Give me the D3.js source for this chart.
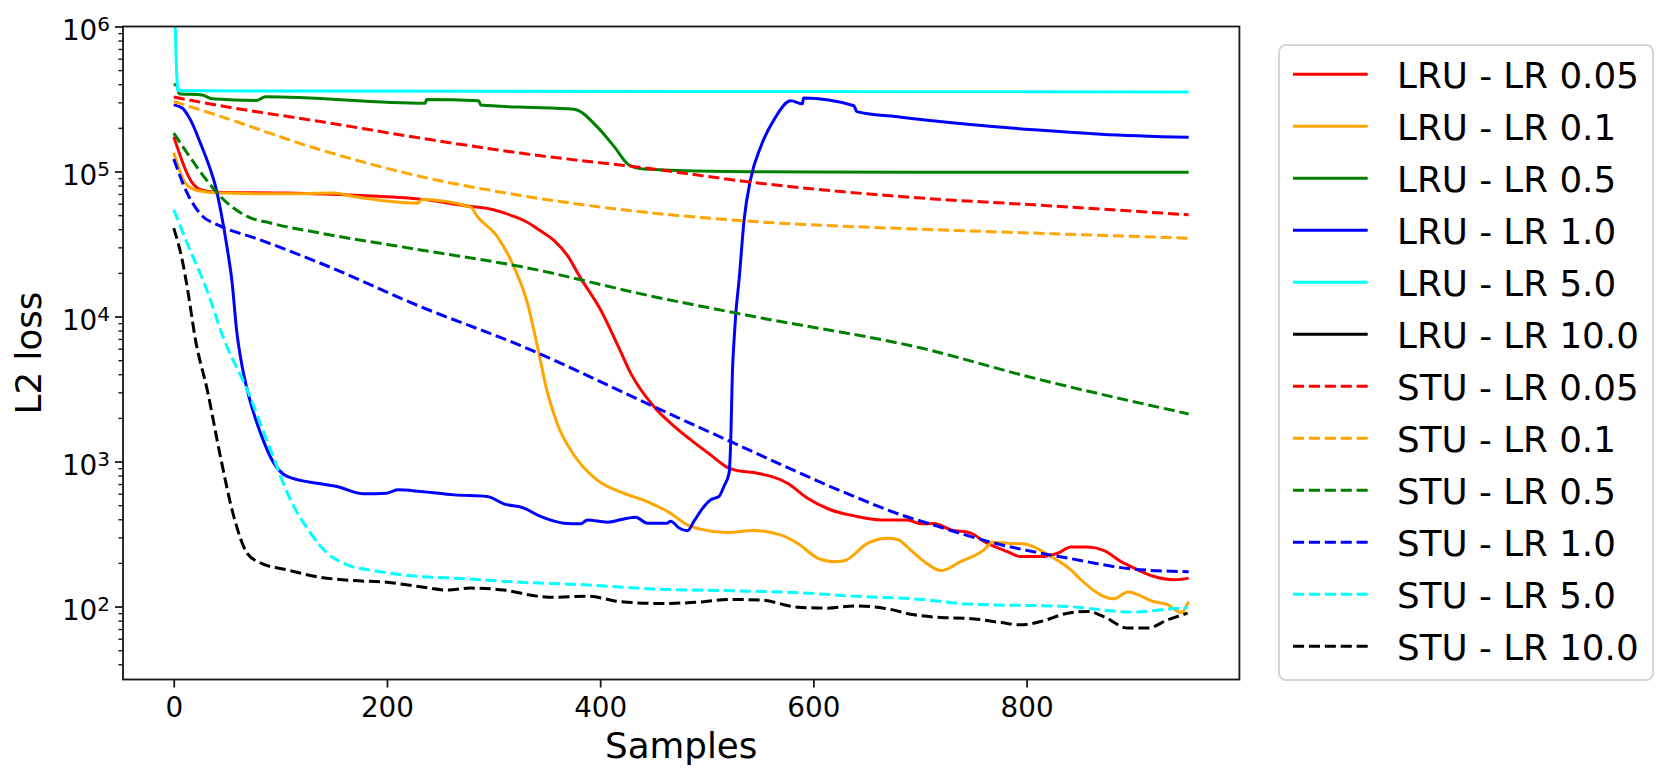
<!DOCTYPE html>
<html>
<head>
<meta charset="utf-8">
<script src="https://cdn.jsdelivr.net/npm/d3@7/dist/d3.min.js"></script>
<style>
  html, body { margin: 0; padding: 0; background: #ffffff; }
  svg { display: block; font-family: "DejaVu Sans", sans-serif; }
</style>
</head>
<body>
<svg id="chart" width="1667" height="779"></svg>
<script>
// ---------------- DATA ----------------
const xTicks = [0, 200, 400, 600, 800];
const yTickExponents = [2, 3, 4, 5, 6];
const xLabel = "Samples";
const yLabel = "L2 loss";

const seriesNames = [
  "LRU - LR 0.05", "LRU - LR 0.1", "LRU - LR 0.5", "LRU - LR 1.0", "LRU - LR 5.0", "LRU - LR 10.0",
  "STU - LR 0.05", "STU - LR 0.1", "STU - LR 0.5", "STU - LR 1.0", "STU - LR 5.0", "STU - LR 10.0"
];
const seriesColors = ["#ff0000", "#ffa500", "#008000", "#0000ff", "#00ffff", "#000000",
                      "#ff0000", "#ffa500", "#008000", "#0000ff", "#00ffff", "#000000"];
const seriesDashed = [false, false, false, false, false, false, true, true, true, true, true, true];

// [sample, loss]
const lru005 = [[0,174000],[18.8,81000],[25,75000],[40.7,72000],[106,71000],[170,68500],[231.5,64500],[278.5,57400],[294,55700],[319,49000],[332,44500],[344,39000],[356.6,33500],[369,26500],[381.7,18400],[400.5,11100],[417.7,6060],[428.6,4070],[450.5,2390],[466,1840],[485,1410],[503.7,1110],[521,899],[528.8,866],[544,839],[575.7,709],[594.5,559],[616,465],[638,422],[663,396],[688,396],[701,372],[713,374],[729,338],[747.7,321],[760,281],[782,239],[794.6,221],[813,221],[829,233],[841.6,257],[857,257],[872.8,243],[888.6,204],[901,184],[919.7,161],[938.5,153],[952,157]];
const lru01 = [[0,135000],[11,83000],[22,74000],[43.8,71000],[103,70200],[150,71000],[169,67200],[228.4,60500],[233,64000],[278.5,56800],[284.7,49000],[303.5,35600],[319,22100],[331.7,12400],[341,6300],[350,3100],[360,1800],[375.4,1110],[397,748],[422,605],[444,530],[466,440],[481.8,366],[494,342],[519,324],[544,334],[569,312],[585,273],[604,216],[619,204],[629,207],[650.7,273],[669.5,296],[679,290],[691,246],[704,204],[719.6,177],[738,204],[760,246],[768,278],[782,273],[797.8,270],[823,221],[841.6,179],[851,153],[869.8,120],[882,113],[894.8,126],[919.7,108],[932.3,103],[944.8,91],[952,108]];
const lru05 = [[0,396000],[3,396000],[5,344000],[26.6,337000],[36,317000],[78,309000],[86,328000],[236,296000],[237,314000],[286,308000],[288,287000],[325,278000],[375.4,269000],[397,204000],[413,149000],[427,111000],[441,104000],[544,99500],[701,99000],[952,99000]];
const lru10 = [[0,288000],[7.9,274000],[15.7,227000],[25,157000],[34.4,103000],[39,80000],[43.8,55000],[50,30000],[54.8,17000],[59,8000],[64,4600],[70,2900],[81.4,1570],[93.9,975],[106.4,789],[137.7,702],[153,673],[178,599],[200,605],[209.7,638],[231.5,622],[262.8,589],[294,575],[309.7,511],[328.5,477],[344,418],[366,376],[381.7,372],[388,396],[406.7,382],[425.5,407],[433.3,413],[444.3,376],[463,376],[466,388],[474,348],[481.8,333],[488,388],[497.4,490],[503.7,545],[511.5,575],[516,673],[520.9,832],[522.5,1410],[524,4070],[525.6,6900],[527,10000],[530.3,17900],[535,46400],[541,87700],[550.7,149000],[563,227000],[578.8,307000],[589.8,293000],[590.7,321000],[638,284000],[640.7,259000],[682,237000],[744.6,212000],[807,194000],[869.8,181000],[952,172000]];
const lru50 = [[0,3000000],[4,362000],[30,360000],[300,358000],[600,356000],[952,353000]];
const lru100 = [];
const stu005 = [[0,326000],[43.8,284000],[137.7,221000],[231.5,170000],[325,134000],[450,104000],[544,84000],[701,65600],[807,58900],[952,50300]];
const stu01 = [[0,304000],[43.8,240000],[137.7,141000],[231.5,92400],[325.4,68300],[450.5,51600],[544,45200],[701,40000],[807,37600],[952,34700]];
const stu05 = [[0,184000],[12.6,134000],[28.2,92400],[43.8,67200],[68.9,49000],[90.8,44100],[137.7,37600],[231.5,28800],[325.4,22100],[450.5,13700],[544,10000],[701,6060],[807,3760],[952,2130]];
const stu10 = [[0,122000],[12.6,71000],[25,51000],[43.8,42000],[75,35000],[137.7,23300],[231.5,11700],[325.4,6300],[450.5,2390],[522.5,1370],[638,575],[682,429],[701,388],[775.8,267],[838.5,216],[901,181],[952,174]];
const stu50 = [[0,54500],[12.6,32000],[31.4,15000],[47,7000],[68.9,3120],[90.8,1200],[109.5,545],[128.3,321],[144,233],[162.7,194],[187.7,177],[231.5,161],[262.8,157],[325.4,147],[388,141],[450.5,132],[513,129],[591,124],[638,118],[701,112],[744.6,104],[838.5,100],[901,91.5],[932.3,96],[951,98]];
const stu100 = [[0,40700],[7.9,24600],[12.6,16000],[20.4,6900],[31.4,3120],[43.8,1080],[56.3,418],[68.9,233],[81.4,200],[106.4,179],[137.7,159],[169,151],[200,147],[231.5,137],[256.6,130],[278.5,134],[309.7,130],[341,118],[356.6,116],[388,118],[419,108],[456.8,105],[497.4,108],[519,112],[550.6,111],[585,99],[613,97.5],[638,101],[666,97.5],[694.5,87.7],[719.6,84],[744.6,83],[775.8,77.6],[794.6,74.8],[813.3,78.9],[838.5,90],[857.3,92.5],[872.8,85],[894.8,71],[913.6,71],[932.3,81],[951,90]];

const seriesData = [lru005, lru01, lru05, lru10, lru50, lru100, stu005, stu01, stu05, stu10, stu50, stu100];

// ---------------- LAYOUT ----------------
const plot = { left: 123, right: 1239.4, top: 26.5, bottom: 679.5 };
const svg = d3.select("#chart");
svg.append("rect").attr("width", 1667).attr("height", 779).attr("fill", "#ffffff");

const x = d3.scaleLinear().domain([-47.6, 999.6]).range([plot.left, plot.right]);
const y = d3.scaleLog().domain([31.4, 1e6]).range([plot.bottom, plot.top]);

const spineColor = "#1a1a1a";
const lw = 3;
const bigFont = "35.7px";

svg.append("defs").append("clipPath").attr("id", "plotclip")
  .append("rect").attr("x", plot.left).attr("y", plot.top)
  .attr("width", plot.right - plot.left).attr("height", plot.bottom - plot.top);

// ---------------- LINES ----------------
const line = d3.line().x(d => x(d[0])).y(d => y(d[1])).curve(d3.curveMonotoneX);
const lineG = svg.append("g").attr("clip-path", "url(#plotclip)");
seriesData.forEach((data, i) => {
  if (!data.length) return;
  lineG.append("path")
    .datum(data)
    .attr("d", line)
    .attr("fill", "none")
    .attr("stroke", seriesColors[i])
    .attr("stroke-width", lw)
    .attr("stroke-linejoin", "round")
    .attr("stroke-linecap", "butt")
    .attr("stroke-dasharray", seriesDashed[i] ? "11.1,4.8" : null);
});

// ---------------- AXES ----------------
const xAxis = svg.append("g")
  .attr("transform", `translate(0,${plot.bottom})`)
  .call(d3.axisBottom(x).tickValues(xTicks).tickSize(8).tickFormat(d3.format("d")));
xAxis.select(".domain").remove();
xAxis.selectAll(".tick line").attr("stroke", spineColor).attr("stroke-width", 1.8);
xAxis.selectAll(".tick text")
  .attr("y", 37.5).attr("dy", null)
  .attr("fill", "#000").attr("font-size", "27.8px")
  .attr("font-family", "'DejaVu Sans', sans-serif");

const majors = yTickExponents.map(e => Math.pow(10, e));
const minors = [];
for (let e = 1; e <= 5; e++) {
  for (let m = 2; m <= 9; m++) {
    const v = m * Math.pow(10, e);
    if (v >= 31.4 && v <= 1e6) minors.push(v);
  }
}
const yMinor = svg.append("g")
  .attr("transform", `translate(${plot.left},0)`)
  .call(d3.axisLeft(y).tickValues(minors).tickSize(4.6).tickFormat(""));
yMinor.select(".domain").remove();
yMinor.selectAll(".tick line").attr("stroke", spineColor).attr("stroke-width", 1.4);

const yMajor = svg.append("g")
  .attr("transform", `translate(${plot.left},0)`)
  .call(d3.axisLeft(y).tickValues(majors).tickSize(8).tickFormat(""));
yMajor.select(".domain").remove();
yMajor.selectAll(".tick line").attr("stroke", spineColor).attr("stroke-width", 1.8);

// y tick labels 10^n
yTickExponents.forEach(e => {
  const ty = y(Math.pow(10, e));
  const t = svg.append("text")
    .attr("x", 110).attr("y", ty + 13.3)
    .attr("text-anchor", "end")
    .attr("fill", "#000")
    .attr("font-size", "27.8px");
  t.append("tspan").text("10");
  t.append("tspan").attr("font-size", "20px").attr("dy", -8.8).text(String(e));
});

// frame
svg.append("rect")
  .attr("x", plot.left).attr("y", plot.top)
  .attr("width", plot.right - plot.left).attr("height", plot.bottom - plot.top)
  .attr("fill", "none").attr("stroke", spineColor).attr("stroke-width", 1.85);

// axis labels
svg.append("text")
  .attr("x", (plot.left + plot.right) / 2).attr("y", 758)
  .attr("text-anchor", "middle").attr("font-size", bigFont).attr("fill", "#000")
  .text(xLabel);
svg.append("text")
  .attr("transform", `translate(41,${(plot.top + plot.bottom) / 2}) rotate(-90)`)
  .attr("text-anchor", "middle").attr("font-size", bigFont).attr("fill", "#000")
  .text(yLabel);

// ---------------- LEGEND ----------------
const leg = svg.append("g");
leg.append("rect")
  .attr("x", 1279).attr("y", 45).attr("width", 374).attr("height", 635)
  .attr("rx", 7).attr("ry", 7)
  .attr("fill", "#ffffff").attr("stroke", "#d6d6d6").attr("stroke-width", 2);
seriesNames.forEach((name, i) => {
  const ly = 74.3 + 52 * i;
  leg.append("line")
    .attr("x1", 1293).attr("x2", 1367.7).attr("y1", ly).attr("y2", ly)
    .attr("stroke", seriesColors[i]).attr("stroke-width", lw)
    .attr("stroke-dasharray", seriesDashed[i] ? "11.1,4.8" : null);
  leg.append("text")
    .attr("x", 1397).attr("y", ly + 13.3)
    .attr("font-size", bigFont).attr("fill", "#000")
    .text(name);
});
</script>
</body>
</html>
